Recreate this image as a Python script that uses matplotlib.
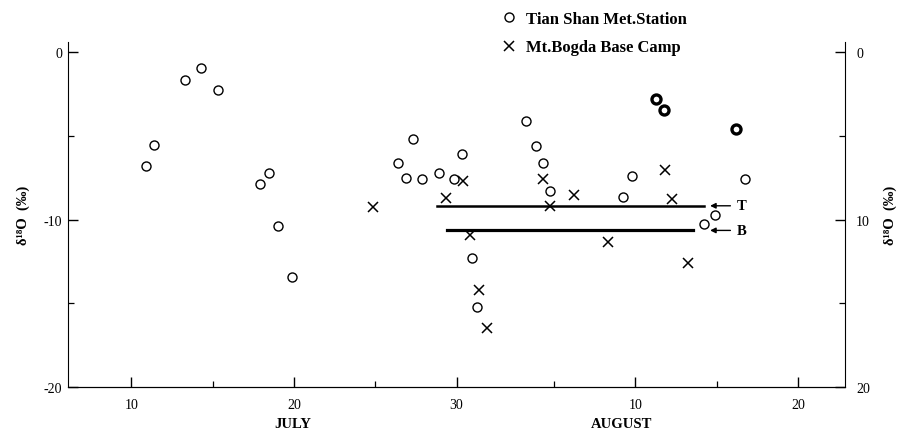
import matplotlib
matplotlib.use("Agg")
import matplotlib.pyplot as plt
from matplotlib.ticker import FixedLocator

plt.rcParams['font.family'] = ['Liberation Serif', 'DejaVu Serif']
plt.rcParams['axes.unicode_minus'] = False

# day number counted from 30 June: July d -> d, August d -> 31 + d
tianshan_day = [10.9, 11.4, 13.3, 14.3, 15.3, 17.9, 18.45, 19.0, 19.9,
                26.4, 26.9, 27.35, 27.9, 28.9, 29.85, 30.35, 30.95, 31.25,
                34.3, 34.9, 35.3, 35.75, 40.25, 40.8, 45.25, 45.9, 47.75]
tianshan_d18o = [-6.8, -5.55, -1.65, -0.95, -2.25, -7.9, -7.2, -10.4, -13.45,
                 -6.6, -7.5, -5.2, -7.6, -7.2, -7.6, -6.1, -12.3, -15.2,
                 -4.1, -5.6, -6.65, -8.3, -8.65, -7.4, -10.25, -9.75, -7.6]
# heavier circles
tianshan_bold_day = [42.25, 42.75, 47.2]
tianshan_bold_d18o = [-2.8, -3.45, -4.6]

bogda_day = [24.85, 29.35, 30.4, 30.85, 31.4, 31.9, 35.3, 35.75, 37.2,
             39.3, 42.8, 43.25, 44.25]
bogda_d18o = [-9.25, -8.7, -7.7, -10.95, -14.2, -16.45, -7.6, -9.2, -8.55,
              -11.35, -7.05, -8.75, -12.6]

# mean levels
top_mean = -9.18
top_span = (28.8, 45.2)
base_mean = -10.65
base_span = (29.4, 44.55)

xticks_major = [10, 20, 30, 41, 51]
xticklabels = ["10", "20", "30", "10", "20"]
xticks_minor = [15, 25, 36, 46]

fig = plt.figure(figsize=(8.99, 4.35), dpi=100)
ax = fig.add_axes([68 / 899, 1 - 388 / 435, (845 - 68) / 899, (388 - 43) / 435])

ax.plot(tianshan_day, tianshan_d18o, 'o', mfc='white', mec='black', ms=6.5, mew=1.0,
        linestyle='none', label='Tian Shan Met.Station')
ax.plot(tianshan_bold_day, tianshan_bold_d18o, 'o', mfc='white', mec='black', ms=6.5,
        mew=2.4, linestyle='none')
ax.plot(bogda_day, bogda_d18o, 'x', color='black', ms=6.5, mew=1.1,
        linestyle='none', label='Mt.Bogda Base Camp')

ax.plot(top_span, [top_mean, top_mean], color='black', lw=1.8)
ax.plot(base_span, [base_mean, base_mean], color='black', lw=2.3)
for lvl, lab in [(top_mean, "T"), (base_mean, "B")]:
    ax.annotate("", xy=(45.6, lvl), xytext=(46.85, lvl),
                arrowprops=dict(arrowstyle='-|>', color='black', lw=1.0,
                                mutation_scale=8, shrinkA=0, shrinkB=0))
    ax.text(47.25, lvl, lab, fontsize=10.5, fontweight='bold', va='center', ha='left')

ax.set_xlim(6.1, 53.9)
ax.set_ylim(-20, 0.6)
ax.spines['top'].set_visible(False)
ax.spines['right'].set_visible(False)

ax.xaxis.set_major_locator(FixedLocator(xticks_major))
ax.set_xticklabels(xticklabels)
ax.xaxis.set_minor_locator(FixedLocator(xticks_minor))
ax.yaxis.set_major_locator(FixedLocator([0, -10, -20]))
ax.yaxis.set_minor_locator(FixedLocator([-5, -15]))
ax.tick_params(which='both', direction='in', labelsize=10)
ax.tick_params(which='major', length=7, width=1.0)
ax.tick_params(which='minor', length=4, width=0.9)
ax.tick_params(axis='x', pad=8)
ax.tick_params(axis='y', pad=4)
ax.set_ylabel("δ¹⁸O  (‰)", fontsize=10.5, fontweight='bold', labelpad=10)

ax2 = ax.twinx()
ax2.set_ylim(20, -0.6)
ax2.spines['top'].set_visible(False)
ax2.spines['left'].set_visible(False)
ax2.yaxis.set_major_locator(FixedLocator([0, 10, 20]))
ax2.yaxis.set_minor_locator(FixedLocator([5, 15]))
ax2.tick_params(which='both', direction='in', labelsize=10, pad=8)
ax2.tick_params(which='major', length=7, width=1.0)
ax2.tick_params(which='minor', length=4, width=0.9)
ax2.set_ylabel("δ¹⁸O  (‰)", fontsize=10.5, fontweight='bold', labelpad=10)

# month captions
fig.text(293 / 899, 1 - 425 / 435, "JULY", ha='center', va='center',
         fontsize=10.5, fontweight='bold')
fig.text(622 / 899, 1 - 425 / 435, "AUGUST", ha='center', va='center',
         fontsize=10.5, fontweight='bold')

handles, labels = ax.get_legend_handles_labels()
fig.legend(handles, labels, loc='upper left', bbox_to_anchor=(486 / 899, 1 + 3 / 435),
           frameon=False, handlelength=1.0, handletextpad=0.5,
           labelspacing=0.75, prop={'weight': 'bold', 'size': 12})

fig.savefig("out.png", dpi=100)
